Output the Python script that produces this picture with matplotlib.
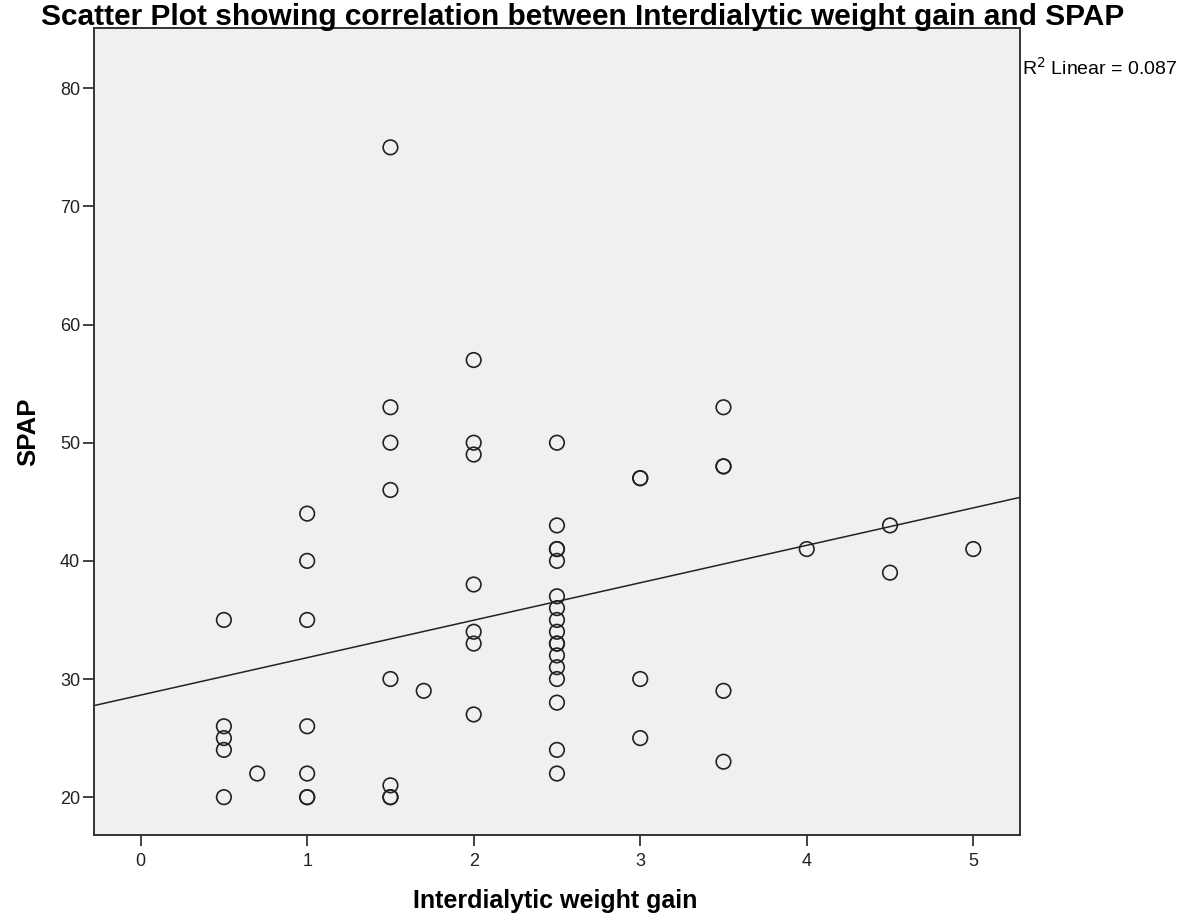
import numpy as np
import matplotlib.pyplot as plt

plt.rcParams['font.family'] = ['Liberation Sans', 'DejaVu Sans']

# weight gain (kg) and SPAP (mmHg), one entry per patient
weight_gain = [0.5, 0.5, 0.5, 0.5, 0.5,
               0.7,
               1, 1, 1, 1, 1, 1, 1,
               1.5, 1.5, 1.5, 1.5, 1.5, 1.5, 1.5, 1.5,
               1.7,
               2, 2, 2, 2, 2, 2, 2,
               2.5, 2.5, 2.5, 2.5, 2.5, 2.5, 2.5, 2.5, 2.5, 2.5, 2.5, 2.5, 2.5, 2.5, 2.5, 2.5, 2.5,
               3, 3, 3, 3,
               3.5, 3.5, 3.5, 3.5, 3.5,
               4,
               4.5, 4.5,
               5]
spap = [35, 26, 25, 24, 20,
        22,
        44, 40, 35, 26, 22, 20, 20,
        75, 53, 50, 46, 30, 21, 20, 20,
        29,
        57, 50, 49, 38, 34, 33, 27,
        50, 43, 41, 41, 40, 37, 36, 35, 34, 33, 33, 32, 31, 30, 28, 24, 22,
        47, 47, 30, 25,
        53, 48, 48, 29, 23,
        41,
        43, 39,
        41]

x = np.array(weight_gain, dtype=float)
y = np.array(spap, dtype=float)
slope, intercept = np.polyfit(x, y, 1)

fig = plt.figure(figsize=(11.84, 9.22), dpi=100)
ax = fig.add_axes([0.0794, 0.0944, 0.782, 0.8752])
ax.set_facecolor('#f0f0f0')

ax.scatter(x, y, s=110, facecolors='none', edgecolors='#222222', linewidths=1.2, zorder=3)

xlim = (-0.28, 5.28)
xl = np.array(xlim)
ax.plot(xl, intercept + slope * xl, color='#222222', lw=1.1, zorder=2)

ax.set_xlim(xlim)
ax.set_ylim(16.8, 85.1)
ax.set_xticks([0, 1, 2, 3, 4, 5])
ax.set_yticks([20, 30, 40, 50, 60, 70, 80])
ax.tick_params(direction='out', length=8, width=1.2, labelsize=13, colors='#222222')
ax.tick_params(axis='x', pad=5)
ax.tick_params(axis='y', pad=2)
for s in ax.spines.values():
    s.set_linewidth(1.4)
    s.set_color('#333333')

ax.set_ylabel('SPAP', fontsize=18.5, fontweight='bold', labelpad=14)
fig.text(0.469, 0.0225, 'Interdialytic weight gain', ha='center', va='center',
         fontsize=18, fontweight='bold')
fig.text(0.492, 0.982, 'Scatter Plot showing correlation between Interdialytic weight gain and SPAP',
         ha='center', va='center', fontsize=21.5, fontweight='bold')
fig.text(0.863, 0.926, 'R$^2$ Linear = 0.087', ha='left', va='center', fontsize=14)

fig.savefig('out.png', dpi=100)
